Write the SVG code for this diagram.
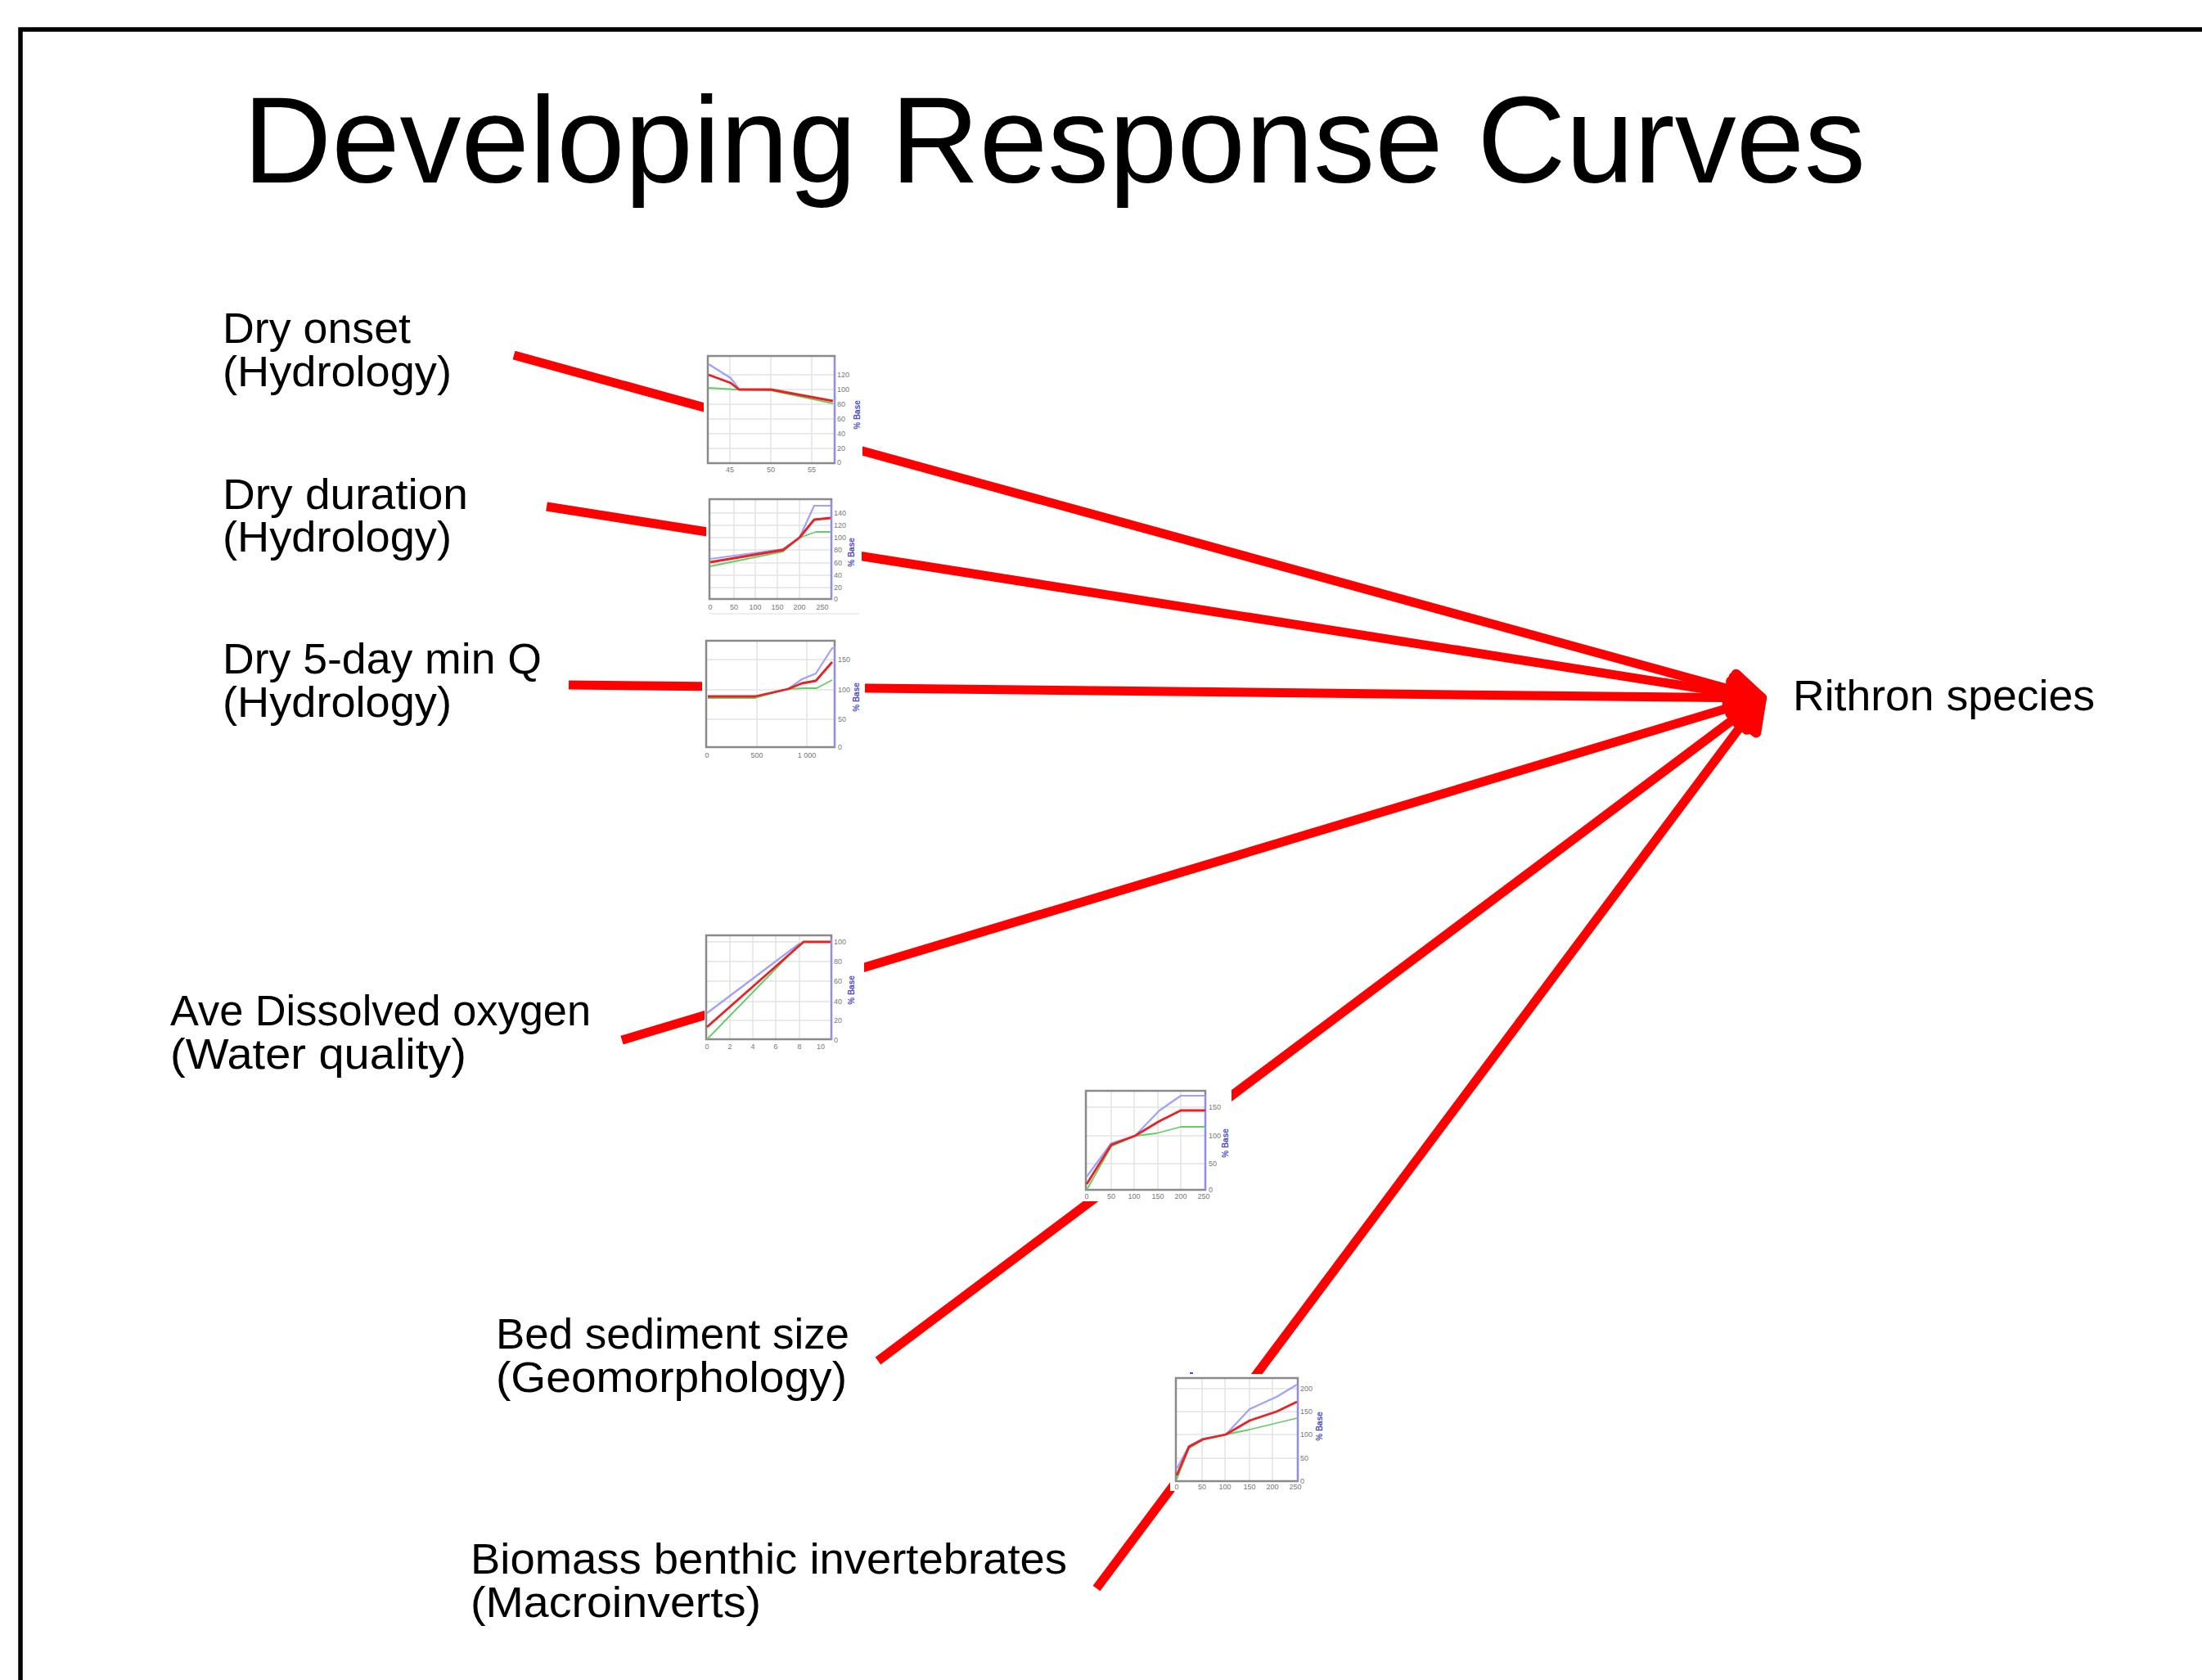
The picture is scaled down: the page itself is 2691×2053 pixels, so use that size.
<svg xmlns="http://www.w3.org/2000/svg" width="2691" height="2053" viewBox="0 0 2691 2053">
<style>
.lbl{font-family:"Liberation Sans",Arial,sans-serif;font-size:51px;fill:#000}
.title{font-family:"Liberation Sans",Arial,sans-serif;font-size:151px;fill:#000}
.conn{stroke:#ff0000;stroke-width:11;fill:none;marker-end:url(#ah)}
.bg{fill:#fff}
.grid{stroke:#e4e4e4;stroke-width:1.5;fill:none}
.frame{fill:none;stroke:#8a8a8a;stroke-width:2.5}
.raxis{stroke:#8c8cff;stroke-width:2}
.cb{fill:none;stroke:#a0a0ff;stroke-width:2.2;stroke-linejoin:round}
.cg{fill:none;stroke:#66cc66;stroke-width:1.8;stroke-linejoin:round}
.cr{fill:none;stroke:#e82222;stroke-width:2.8;stroke-linejoin:round}
.tk{font-family:"Liberation Sans",Arial,sans-serif;font-size:9px;fill:#777}
.tkm{font-family:"Liberation Sans",Arial,sans-serif;font-size:9px;fill:#777;text-anchor:middle}
.pb{font-family:"Liberation Sans",Arial,sans-serif;font-size:10px;font-weight:bold;fill:#4a4ad0;text-anchor:middle}
</style>
<defs>
<marker id="ah" markerUnits="userSpaceOnUse" markerWidth="100" markerHeight="100" viewBox="-60 -50 100 100" refX="0" refY="0" orient="auto" overflow="visible">
<path d="M0,0 L-38,-20 L-38,20 Z" fill="#ff0000" stroke="#ff0000" stroke-width="12" stroke-linejoin="round"/>
</marker>
</defs>
<rect x="0" y="0" width="2691" height="2053" fill="#fff"/>
<path d="M25,2053 V36 H2691" fill="none" stroke="#000" stroke-width="5.5"/>
<text class="title" x="297" y="223" textLength="1983" lengthAdjust="spacingAndGlyphs">Developing Response Curves</text>

<g id="connectors">
<line class="conn" x1="628" y1="434" x2="2153" y2="853"/>
<line class="conn" x1="668" y1="619" x2="2153" y2="853"/>
<line class="conn" x1="695" y1="837" x2="2153" y2="853"/>
<line class="conn" x1="760" y1="1271" x2="2153" y2="853"/>
<line class="conn" x1="1073" y1="1663" x2="2153" y2="853"/>
<line class="conn" x1="1340" y1="1941" x2="2153" y2="853"/>
</g>

<g id="chart-dry-onset">
<rect class="bg" x="860" y="428" width="194" height="152"/>
<path class="grid" d="M892,435V566M942,435V566M992,435V566M865,458H1020M865,476H1020M865,494H1020M865,512H1020M865,530H1020M865,548H1020"/>
<rect class="frame" x="865" y="435" width="155" height="131"/>
<line class="raxis" x1="1020" y1="437" x2="1020" y2="566"/>
<polyline class="cb" points="866,445 893,462 903,475"/>
<polyline class="cg" points="866,474 900,476 942,477 1018,493"/>
<polyline class="cr" points="866,458 893,468 903,476 942,476 1018,490"/>
<text class="tk" x="1023" y="461">120</text><text class="tk" x="1023" y="479">100</text><text class="tk" x="1023" y="497">80</text><text class="tk" x="1023" y="515">60</text><text class="tk" x="1023" y="533">40</text><text class="tk" x="1023" y="551">20</text><text class="tk" x="1023" y="568">0</text>
<text class="tkm" x="892" y="577">45</text><text class="tkm" x="942" y="577">50</text><text class="tkm" x="992" y="577">55</text>
<text class="pb" transform="translate(1051,507) rotate(-90)">% Base</text>
</g>

<g id="chart-dry-duration">
<rect class="bg" x="863" y="604" width="190" height="148"/>
<path class="grid" d="M897,610V732M923,610V732M950,610V732M977,610V732M867,627H1016M867,642H1016M867,657H1016M867,672H1016M867,688H1016M867,703H1016M867,718H1016"/>
<line x1="867" y1="750" x2="1050" y2="750" stroke="#e8e8e8" stroke-width="1.5"/>
<rect class="frame" x="867" y="610" width="149" height="122"/>
<line class="raxis" x1="1016" y1="612" x2="1016" y2="732"/>
<polyline class="cb" points="868,683 957,671 977,657 995,618 1015,618"/>
<polyline class="cg" points="868,692 957,674 977,657 997,650 1015,650"/>
<polyline class="cr" points="868,687 957,672 977,657 995,635 1015,633"/>
<text class="tk" x="1019" y="630">140</text><text class="tk" x="1019" y="645">120</text><text class="tk" x="1019" y="660">100</text><text class="tk" x="1019" y="675">80</text><text class="tk" x="1019" y="691">60</text><text class="tk" x="1019" y="706">40</text><text class="tk" x="1019" y="721">20</text><text class="tk" x="1019" y="735">0</text>
<text class="tkm" x="868" y="745">0</text><text class="tkm" x="897" y="745">50</text><text class="tkm" x="923" y="745">100</text><text class="tkm" x="950" y="745">150</text><text class="tkm" x="977" y="745">200</text><text class="tkm" x="1005" y="745">250</text>
<text class="pb" transform="translate(1044,675) rotate(-90)">% Base</text>
</g>

<g id="chart-dry-5day">
<rect class="bg" x="858" y="777" width="199" height="153"/>
<path class="grid" d="M925,783V913M986,783V913M863,806H1020M863,843H1020M863,879H1020"/>
<rect class="frame" x="863" y="783" width="157" height="130"/>
<line class="raxis" x1="1020" y1="790" x2="1020" y2="913"/>
<polyline class="cb" points="865,851 923,851 963,842 980,830 997,823 1017,792 1020,792"/>
<polyline class="cg" points="865,853 923,853 963,842 983,841 998,841 1017,831"/>
<polyline class="cr" points="865,851 923,851 963,842 980,835 997,832 1017,809"/>
<text class="tk" x="1024" y="809">150</text><text class="tk" x="1024" y="846">100</text><text class="tk" x="1024" y="882">50</text><text class="tk" x="1024" y="916">0</text>
<text class="tkm" x="864" y="926">0</text><text class="tkm" x="925" y="926">500</text><text class="tkm" x="986" y="926">1 000</text>
<text class="pb" transform="translate(1050,852) rotate(-90)">% Base</text>
</g>

<g id="chart-dissolved-oxygen">
<rect class="bg" x="861" y="1137" width="195" height="148"/>
<path class="grid" d="M892,1143V1270M920,1143V1270M948,1143V1270M977,1143V1270M863,1151H1016M863,1175H1016M863,1199H1016M863,1224H1016M863,1247H1016"/>
<rect class="frame" x="863" y="1143" width="153" height="127"/>
<line class="raxis" x1="1016" y1="1148" x2="1016" y2="1270"/>
<polyline class="cb" points="864,1238 977,1153"/>
<polyline class="cg" points="864,1270 978,1153"/>
<polyline class="cr" points="864,1255 982,1151 1015,1151"/>
<text class="tk" x="1019" y="1154">100</text><text class="tk" x="1019" y="1178">80</text><text class="tk" x="1019" y="1202">60</text><text class="tk" x="1019" y="1227">40</text><text class="tk" x="1019" y="1250">20</text><text class="tk" x="1019" y="1274">0</text>
<text class="tkm" x="864" y="1282">0</text><text class="tkm" x="892" y="1282">2</text><text class="tkm" x="920" y="1282">4</text><text class="tkm" x="948" y="1282">6</text><text class="tkm" x="977" y="1282">8</text><text class="tkm" x="1003" y="1282">10</text>
<text class="pb" transform="translate(1044,1210) rotate(-90)">% Base</text>
</g>

<g id="chart-bed-sediment">
<rect class="bg" x="1320" y="1326" width="185" height="142"/>
<path class="grid" d="M1358,1333V1454M1386,1333V1454M1415,1333V1454M1443,1333V1454M1327,1353H1473M1327,1388H1473M1327,1422H1473"/>
<rect class="frame" x="1327" y="1333" width="146" height="121"/>
<line class="raxis" x1="1473" y1="1340" x2="1473" y2="1454"/>
<polyline class="cb" points="1328,1438 1358,1397 1387,1388 1417,1357 1443,1339 1473,1339"/>
<polyline class="cg" points="1328,1454 1358,1401 1387,1388 1413,1385 1443,1377 1473,1377"/>
<polyline class="cr" points="1328,1447 1358,1399 1387,1388 1417,1370 1443,1357 1473,1357"/>
<text class="tk" x="1477" y="1356">150</text><text class="tk" x="1477" y="1391">100</text><text class="tk" x="1477" y="1425">50</text><text class="tk" x="1477" y="1457">0</text>
<text class="tkm" x="1328" y="1465">0</text><text class="tkm" x="1358" y="1465">50</text><text class="tkm" x="1386" y="1465">100</text><text class="tkm" x="1415" y="1465">150</text><text class="tkm" x="1443" y="1465">200</text><text class="tkm" x="1471" y="1465">250</text>
<text class="pb" transform="translate(1501,1397) rotate(-90)">% Base</text>
</g>

<g id="chart-biomass">
<rect class="bg" x="1430" y="1679" width="192" height="143"/>
<path class="grid" d="M1469,1684V1810M1497,1684V1810M1527,1684V1810M1555,1684V1810M1437,1697H1586M1437,1725H1586M1437,1753H1586M1437,1782H1586"/>
<rect class="frame" x="1437" y="1684" width="149" height="126"/>
<line class="raxis" x1="1586" y1="1692" x2="1586" y2="1810" stroke-width="3"/>
<rect x="1454" y="1677" width="4" height="2" fill="#4a4ad0"/>
<polyline class="cb" points="1438,1795 1453,1767 1470,1758 1498,1753 1527,1722 1560,1707 1585,1692"/>
<polyline class="cg" points="1438,1808 1453,1770 1470,1759 1498,1753 1527,1747 1585,1733"/>
<polyline class="cr" points="1438,1803 1453,1768 1470,1759 1498,1753 1527,1736 1560,1725 1585,1713"/>
<text class="tk" x="1589" y="1700">200</text><text class="tk" x="1589" y="1728">150</text><text class="tk" x="1589" y="1756">100</text><text class="tk" x="1589" y="1785">50</text><text class="tk" x="1589" y="1813">0</text>
<text class="tkm" x="1438" y="1820">0</text><text class="tkm" x="1469" y="1820">50</text><text class="tkm" x="1497" y="1820">100</text><text class="tkm" x="1527" y="1820">150</text><text class="tkm" x="1555" y="1820">200</text><text class="tkm" x="1583" y="1820">250</text>
<text class="pb" transform="translate(1616,1743) rotate(-90)">% Base</text>
</g>

<g id="node-dry-onset"><text class="lbl" x="272" y="419" textLength="230" lengthAdjust="spacingAndGlyphs">Dry onset</text><text class="lbl" x="272" y="472" textLength="280" lengthAdjust="spacingAndGlyphs">(Hydrology)</text></g>
<g id="node-dry-duration"><text class="lbl" x="272" y="622" textLength="300" lengthAdjust="spacingAndGlyphs">Dry duration</text><text class="lbl" x="272" y="674" textLength="280" lengthAdjust="spacingAndGlyphs">(Hydrology)</text></g>
<g id="node-dry-5day"><text class="lbl" x="272" y="823" textLength="390" lengthAdjust="spacingAndGlyphs">Dry 5-day min Q</text><text class="lbl" x="272" y="876" textLength="280" lengthAdjust="spacingAndGlyphs">(Hydrology)</text></g>
<g id="node-dissolved-oxygen"><text class="lbl" x="208" y="1253" textLength="514" lengthAdjust="spacingAndGlyphs">Ave Dissolved oxygen</text><text class="lbl" x="208" y="1306" textLength="362" lengthAdjust="spacingAndGlyphs">(Water quality)</text></g>
<g id="node-bed-sediment"><text class="lbl" x="606" y="1648" textLength="432" lengthAdjust="spacingAndGlyphs">Bed sediment size</text><text class="lbl" x="606" y="1701" textLength="429" lengthAdjust="spacingAndGlyphs">(Geomorphology)</text></g>
<g id="node-biomass"><text class="lbl" x="575" y="1923" textLength="729" lengthAdjust="spacingAndGlyphs">Biomass benthic invertebrates</text><text class="lbl" x="575" y="1976" textLength="355" lengthAdjust="spacingAndGlyphs">(Macroinverts)</text></g>
<g id="node-rithron"><text class="lbl" x="2191" y="868" textLength="369" lengthAdjust="spacingAndGlyphs">Rithron species</text></g>
</svg>
